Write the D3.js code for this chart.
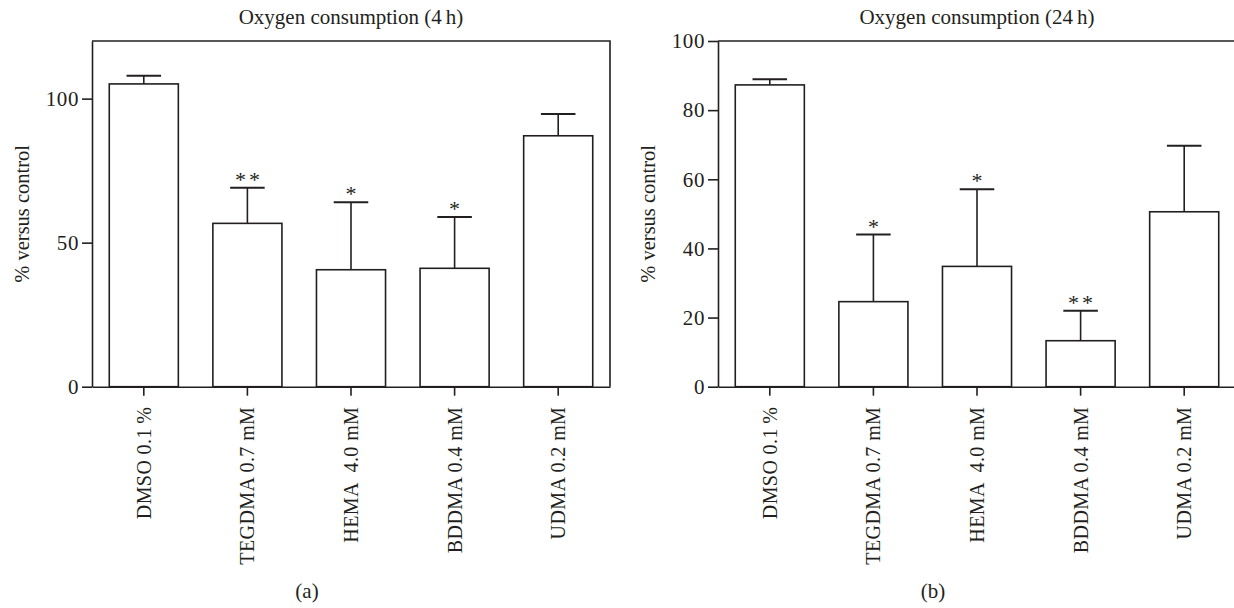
<!DOCTYPE html>
<html>
<head>
<meta charset="utf-8">
<script src="https://cdn.jsdelivr.net/npm/d3@7"></script>
<style>
  html, body { margin: 0; padding: 0; background: #fff; }
  svg { display: block; }
  text { font-family: "Liberation Serif", "DejaVu Serif", serif; fill: #231f20; white-space: pre; }
</style>
</head>
<body>
<svg id="chart" width="1234" height="608"></svg>
<script>
// ---- data ----
const categories = ["DMSO 0.1\u2009%", "TEGDMA 0.7 mM", "HEMA  4.0 mM", "BDDMA 0.4 mM", "UDMA 0.2 mM"];

const values4h = [105.1, 56.7, 40.6, 41.1, 87.1];
const errors4h = [2.8, 12.4, 23.4, 17.8, 7.6];
const stars4h  = ["", "**", "*", "*", ""];
const ticks4h  = [0, 50, 100];

const values24h = [87.3, 24.6, 34.8, 13.3, 50.6];
const errors24h = [1.6, 19.4, 22.3, 8.7, 19.1];
const stars24h  = ["", "*", "*", "**", ""];
const ticks24h  = [0, 20, 40, 60, 80, 100];

const titles = ["Oxygen consumption (4\u2009h)", "Oxygen consumption (24\u2009h)"];
const panelLabels = ["(a)", "(b)"];

// ---- drawing ----
const svg = d3.select("#chart");
const ink = "#231f20";

function drawPanel(opt) {
  const g = svg.append("g");
  const x = d3.scaleBand().domain(categories).range([opt.x0, opt.x1])
    .paddingInner(1/3).paddingOuter(1/6);
  const y = d3.scaleLinear().domain([0, opt.yMax]).range([opt.yBottom, opt.yTop]);

  // frame: top and right
  g.append("path")
    .attr("d", `M${opt.x0},${opt.yTop}H${opt.x1}V${opt.yBottom}`)
    .attr("fill", "none").attr("stroke", ink).attr("stroke-width", 1.6);

  // bars
  g.selectAll("rect.bar").data(opt.values).join("rect")
    .attr("class", "bar")
    .attr("x", (d, i) => x(categories[i]))
    .attr("width", x.bandwidth())
    .attr("y", d => y(d))
    .attr("height", d => y(0) - y(d))
    .attr("fill", "#fff").attr("stroke", ink).attr("stroke-width", 1.6);

  // error bars (upper only)
  const cx = i => x(categories[i]) + x.bandwidth() / 2;
  const capW = x.bandwidth() / 2;
  g.selectAll("line.err").data(opt.values).join("line")
    .attr("class", "err")
    .attr("x1", (d, i) => cx(i)).attr("x2", (d, i) => cx(i))
    .attr("y1", d => y(d)).attr("y2", (d, i) => y(d + opt.errors[i]))
    .attr("stroke", ink).attr("stroke-width", 1.6);
  g.selectAll("line.cap").data(opt.values).join("line")
    .attr("class", "cap")
    .attr("x1", (d, i) => cx(i) - capW / 2).attr("x2", (d, i) => cx(i) + capW / 2)
    .attr("y1", (d, i) => y(d + opt.errors[i])).attr("y2", (d, i) => y(d + opt.errors[i]))
    .attr("stroke", ink).attr("stroke-width", 2);

  // significance stars
  opt.stars.forEach((s, i) => {
    const n = s.length;
    for (let k = 0; k < n; k++) {
      g.append("text")
        .attr("x", cx(i) + (k - (n - 1) / 2) * 14)
        .attr("y", y(opt.values[i] + opt.errors[i]) - 1)
        .attr("text-anchor", "middle")
        .attr("font-size", 22)
        .text("*");
    }
  });

  // y axis
  const yAxis = d3.axisLeft(y).tickValues(opt.ticks).tickSize(10).tickPadding(3).tickSizeOuter(0);
  const ya = g.append("g").attr("transform", `translate(${opt.x0},0)`).call(yAxis);
  ya.select(".domain").attr("stroke", ink).attr("stroke-width", 1.6);
  ya.selectAll(".tick line").attr("stroke", ink).attr("stroke-width", 1.6);
  ya.selectAll(".tick text").attr("font-size", 21).attr("font-family", "Liberation Serif").attr("fill", ink)
    .style("letter-spacing", "0.6px");

  // x axis
  const xAxis = d3.axisBottom(x).tickSize(9).tickSizeOuter(0).tickFormat(() => "");
  const xa = g.append("g").attr("transform", `translate(0,${opt.yBottom})`).call(xAxis);
  xa.select(".domain").attr("stroke", ink).attr("stroke-width", 1.6);
  xa.selectAll(".tick line").attr("stroke", ink).attr("stroke-width", 1.6);

  // category labels (rotated)
  g.selectAll("text.cat").data(categories).join("text")
    .attr("class", "cat")
    .attr("transform", d => `translate(${x(d) + x.bandwidth() / 2},${opt.yBottom + 20}) rotate(-90)`)
    .attr("text-anchor", "end")
    .attr("dy", "0.35em")
    .attr("font-size", 20)
    .style("letter-spacing", "0.4px")
    .text(d => d);

  // y label
  g.append("text")
    .attr("transform", `translate(${opt.yLabelX},${(opt.yTop + opt.yBottom) / 2}) rotate(-90)`)
    .attr("text-anchor", "middle")
    .attr("dy", "0.35em")
    .attr("font-size", 20.5)
    .text("% versus control");

  // title
  g.append("text")
    .attr("x", (opt.x0 + opt.x1) / 2)
    .attr("y", opt.titleY)
    .attr("text-anchor", "middle")
    .attr("font-size", 21)
    .text(opt.title);

  // panel label
  g.append("text")
    .attr("x", opt.panelX)
    .attr("y", 598)
    .attr("text-anchor", "middle")
    .attr("font-size", 21)
    .text(opt.panel);
}

drawPanel({
  x0: 92, x1: 610, yTop: 41, yBottom: 386.7, yMax: 120,
  values: values4h, errors: errors4h, stars: stars4h, ticks: ticks4h,
  title: titles[0], panel: panelLabels[0], yLabelX: 22, titleY: 24, panelX: 307
});
drawPanel({
  x0: 718, x1: 1236, yTop: 41, yBottom: 386.7, yMax: 100,
  values: values24h, errors: errors24h, stars: stars24h, ticks: ticks24h,
  title: titles[1], panel: panelLabels[1], yLabelX: 648, titleY: 24, panelX: 933
});
</script>
</body>
</html>
